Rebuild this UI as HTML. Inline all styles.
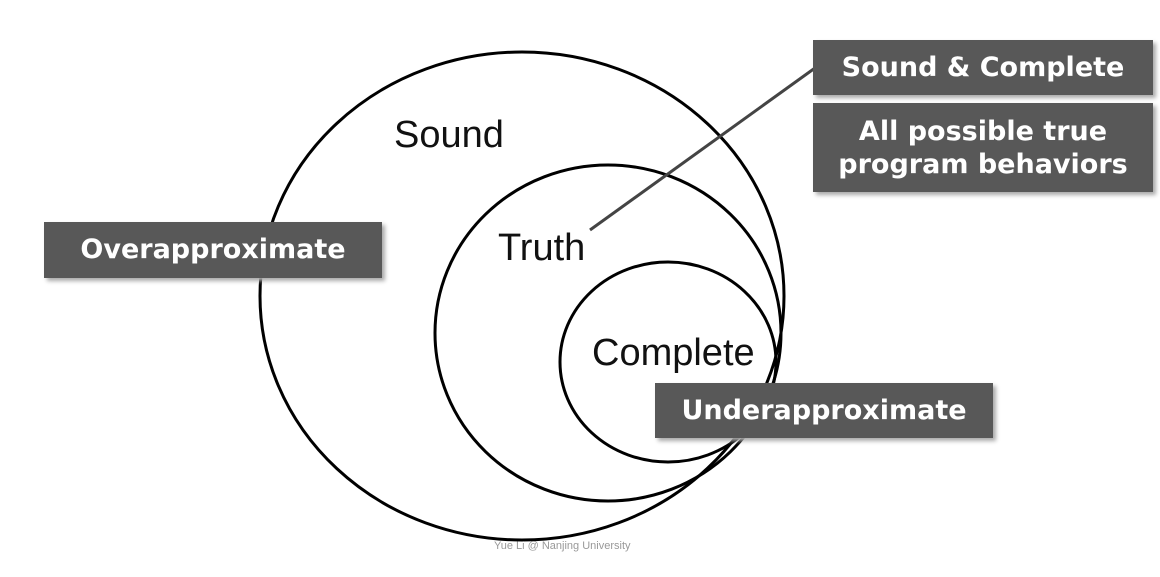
<!DOCTYPE html>
<html><head><style>
body{margin:0;width:1160px;height:577px;background:#fff;position:relative;overflow:hidden;font-family:"Liberation Sans",sans-serif}
.b{position:absolute;background:#585858;color:#fff;font-family:"Comic Sans MS","DejaVu Sans",sans-serif;font-weight:bold;text-align:center;box-shadow:3px 3px 4px #aaa;font-size:27px}
.t{position:absolute;font-size:38px;color:#111}
</style></head><body>
<svg width="1160" height="577" style="position:absolute;left:0;top:0">
<g fill="none" stroke="#000" stroke-width="3">
<ellipse cx="522" cy="296" rx="262" ry="244"/>
<ellipse cx="608" cy="333" rx="173" ry="168"/>
<ellipse cx="668" cy="362" rx="108" ry="100"/>
</g>
<line x1="590" y1="230" x2="815" y2="68" stroke="#444" stroke-width="3"/>
</svg>
<div class="t" style="left:394px;top:114px">Sound</div>
<div class="t" style="left:498px;top:227px">Truth</div>
<div class="t" style="left:592px;top:332px">Complete</div>
<div class="b" style="left:44px;top:222px;width:338px;height:56px;line-height:56px">Overapproximate</div>
<div class="b" style="left:813px;top:40px;width:340px;height:55px;line-height:55px">Sound &amp; Complete</div>
<div class="b" style="left:813px;top:103px;width:340px;height:89px;line-height:33px;padding-top:12px;box-sizing:border-box">All possible true<br>program behaviors</div>
<div class="b" style="left:655px;top:383px;width:338px;height:55px;line-height:55px">Underapproximate</div>
<div style="position:absolute;left:494px;top:540px;font-size:11px;color:#999">Yue Li @ Nanjing University</div>
</body></html>
